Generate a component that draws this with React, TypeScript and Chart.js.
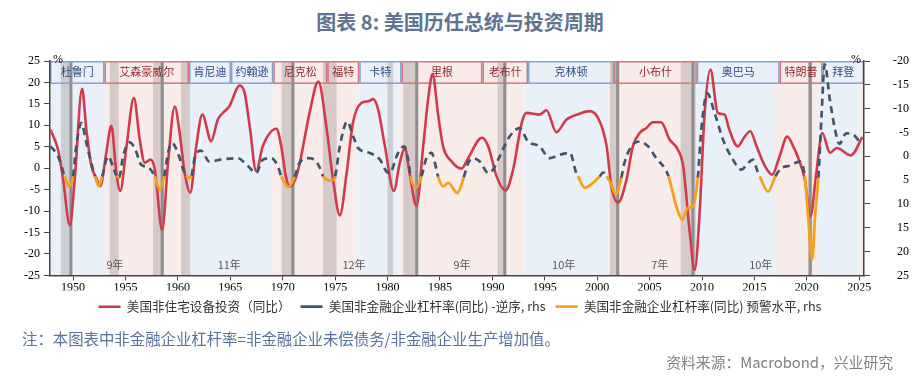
import React, { useEffect, useRef } from 'react';
import { Chart, registerables } from 'chart.js';

Chart.register(...registerables);

// ---------- data ----------
const xTickYears = [1950, 1955, 1960, 1965, 1970, 1975, 1980, 1985, 1990, 1995, 2000, 2005, 2010, 2015, 2020, 2025];

const investYears = [
  1947.85, 1948.57, 1949.05, 1949.69, 1950.16, 1950.86, 1951.27, 1951.75, 1952.2, 1952.6,
  1953.17, 1953.65, 1954.13, 1954.5, 1955.1, 1955.8, 1956.36, 1956.83, 1957.4, 1957.8,
  1958.5, 1959.06, 1959.7, 1960.17, 1960.65, 1961.18, 1961.75, 1962.33, 1963.18, 1963.8,
  1964.46, 1964.9, 1965.9, 1966.37, 1966.85, 1967.47, 1968.1, 1969.4, 1969.86, 1970.3,
  1970.7, 1971.3, 1971.76, 1972.56, 1973.4, 1974.2, 1974.8, 1975.45, 1976.1, 1976.7,
  1977.5, 1978.15, 1978.63, 1979.1, 1979.75, 1980.6, 1981.17, 1981.65, 1982.1, 1982.76,
  1983.4, 1983.9, 1984.3, 1984.8, 1985.3, 1986.1, 1987.05, 1987.7, 1989.0, 1989.6,
  1990.4, 1991.25, 1991.98, 1992.8, 1993.25, 1994.5, 1995.16, 1996.1, 1997.05, 1998.3,
  1999.3, 2000.24, 2000.9, 2001.35, 2002.0, 2002.8, 2003.4, 2004.05, 2004.7, 2005.3,
  2006.1, 2006.9, 2007.7, 2008.2, 2008.8, 2009.3, 2009.77, 2010.25, 2010.8, 2011.5,
  2012.15, 2012.6, 2013.4, 2014.0, 2014.6, 2015.2, 2016.0, 2016.7, 2017.4, 2018.13,
  2018.7, 2019.3, 2019.8, 2020.35, 2020.9, 2021.47, 2022.2, 2022.86, 2024.2, 2025.3,
];
const investValues = [
  9.0, 4.3, -2.6, -13.3, -2.6, 18.5, 9.0, 0.5, -2.2, -4.2,
  3.6, 9.9, -1.1, -5.3, 5.1, 16.4, 6.7, 1.3, 2.0, -0.3,
  -14.4, 1.3, 14.4, 8.2, -1.1, -5.7, 5.1, 12.5, 6.3, 11.3,
  13.3, 14.4, 19.3, 17.5, 9.8, -0.7, 5.1, 9.2, 5.1, -1.9,
  -4.3, -1.9, 2.8, 12.9, 20.2, 9.0, -2.6, -11.0, -1.1, 10.6,
  15.2, 15.6, 16.1, 13.7, 5.1, -5.3, 1.3, 4.7, -1.1, -8.8,
  5.1, 16.7, 22.0, 12.9, 5.1, 1.6, -0.1, 2.4, 7.1, 5.1,
  -1.9, -5.2, -0.3, 10.6, 12.9, 12.5, 13.5, 8.4, 11.3, 12.7,
  13.3, 10.9, 5.1, -4.2, -8.0, -2.6, 5.1, 8.2, 9.4, 10.7,
  10.7, 6.7, 4.3, 0.5, -14.3, -23.7, -10.4, 12.9, 23.0, 12.9,
  12.5, 9.0, 5.1, 7.1, 8.6, 5.1, 0.5, -1.5, 2.8, 7.4,
  5.1, 1.6, -2.6, -11.2, -1.1, 8.2, 3.6, 4.7, 3.0, 7.3,
];

const leverageYears = [
  1947.85, 1948.57, 1949.2, 1949.6, 1950.0, 1950.3, 1950.8, 1951.27, 1951.9, 1952.1,
  1952.45, 1952.78, 1953.34, 1953.8, 1954.15, 1954.4, 1954.77, 1955.4, 1955.94, 1956.5,
  1957.15, 1957.8, 1958.26, 1958.7, 1959.06, 1959.44, 1960.0, 1960.55, 1960.8, 1961.05,
  1961.3, 1961.6, 1962.2, 1963.0, 1964.1, 1965.7, 1966.7, 1967.47, 1968.1, 1968.9,
  1969.54, 1969.86, 1970.56, 1971.13, 1971.6, 1972.4, 1973.04, 1973.55, 1973.85, 1974.3,
  1974.66, 1975.0, 1975.45, 1976.15, 1976.72, 1977.2, 1978.3, 1979.27, 1979.9, 1980.2,
  1981.0, 1981.58, 1981.96, 1982.2, 1982.7, 1983.24, 1983.7, 1984.2, 1984.67, 1984.83,
  1985.3, 1985.78, 1986.67, 1987.27, 1987.7, 1988.16, 1988.8, 1989.6, 1990.07, 1990.7,
  1991.66, 1992.6, 1993.4, 1994.5, 1995.47, 1996.4, 1997.4, 1998.0, 1998.17, 1998.8,
  1999.6, 2000.24, 2000.56, 2000.9, 2001.35, 2001.76, 2002.3, 2002.6, 2003.26, 2004.05,
  2004.84, 2005.64, 2006.43, 2006.8, 2007.55, 2008.1, 2008.65, 2009.13, 2009.6, 2009.93,
  2010.5, 2011.2, 2012.0, 2012.95, 2013.75, 2014.4, 2014.85, 2015.3, 2015.5, 2016.3,
  2017.0, 2017.56, 2018.35, 2019.3, 2019.8, 2020.1, 2020.5, 2020.8, 2021.1, 2021.4,
  2021.7, 2022.2, 2022.65, 2023.1, 2023.75, 2024.4, 2025.0,
];
const leverageValues = [
  -2.1, 0.0, 4.2, 6.4, 4.2, -2.1, -7.0, -2.8, 2.8, 4.2,
  6.3, 4.2, 0.0, 2.1, 4.1, 4.4, 0.0, -2.9, -1.4, 1.8,
  2.3, 4.2, 7.0, 4.2, -0.7, -2.8, -0.7, 3.0, 4.1, 4.6,
  4.1, 0.4, -1.2, 1.1, 0.7, 0.4, 2.1, 3.5, 0.7, 0.4,
  2.1, 4.2, 6.4, 4.3, 1.4, 0.4, 0.7, 2.5, 4.2, 5.0,
  5.1, 4.2, -2.1, -7.3, -4.2, -1.7, -0.7, 0.7, 3.2, 3.5,
  -0.7, -2.1, 0.7, 4.2, 6.6, 4.2, 0.4, -0.7, 2.8, 4.3,
  6.3, 5.6, 7.7, 4.4, 1.4, 0.4, 1.1, 3.5, 2.8, 0.0,
  -4.2, -5.9, -3.1, -2.1, 0.4, -0.3, -0.7, 3.5, 4.2, 6.6,
  5.6, 4.2, 3.4, 4.2, 6.0, 8.0, 4.5, 1.4, -2.1, -3.1,
  -2.1, 0.4, 2.5, 4.2, 10.5, 13.3, 10.8, 10.5, 4.5, -5.6,
  -13.2, -9.1, -3.5, 0.7, 2.8, 1.4, 0.7, 3.2, 4.2, 7.4,
  4.2, 2.5, 2.0, 1.1, 4.2, 11.9, 21.7, 11.9, 4.5, -8.5,
  -19.3, -11.8, -6.0, -2.6, -4.8, -4.6, -3.1,
];
const warningLevel = 4;

// presidents: name, party, box start, box end
const presidents: [string, string, number, number][] = [
  ['杜鲁门', 'D', 1947.8, 1953.0],
  ['艾森豪威尔', 'R', 1953.0, 1961.06],
  ['肯尼迪', 'D', 1961.06, 1965.06],
  ['约翰逊', 'D', 1965.06, 1969.1],
  ['尼克松', 'R', 1969.1, 1974.25],
  ['福特', 'R', 1974.25, 1977.3],
  ['卡特', 'D', 1977.3, 1981.33],
  ['里根', 'R', 1981.33, 1989.05],
  ['老布什', 'R', 1989.05, 1993.4],
  ['克林顿', 'D', 1993.4, 2001.6],
  ['小布什', 'R', 2001.6, 2009.5],
  ['奥巴马', 'D', 2009.5, 2017.4],
  ['特朗普', 'R', 2017.4, 2021.5],
  ['拜登', 'D', 2021.5, 2025.45],
];

// background shading by party
const partyPeriods: [number, number, string][] = [
  [1947.8, 1953.05, 'D'], [1953.05, 1961.05, 'R'], [1961.05, 1969.05, 'D'],
  [1969.05, 1977.05, 'R'], [1977.05, 1981.05, 'D'], [1981.05, 1993.05, 'R'],
  [1993.05, 2001.05, 'D'], [2001.05, 2009.05, 'R'], [2009.05, 2017.05, 'D'],
  [2017.05, 2021.05, 'R'], [2021.05, 2025.05, 'D'], [2025.05, 2025.45, 'R'],
];

const recessions: [number, number][] = [
  [1948.83, 1949.9], [1953.5, 1954.36], [1957.63, 1958.68], [1960.3, 1961.18],
  [1969.9, 1971.1], [1973.83, 1975.14], [1980.0, 1980.53], [1981.49, 1982.92],
  [1990.49, 1991.34], [2001.2, 2002.1], [2007.96, 2009.4], [2020.1, 2020.5],
];
const troughs = [1949.8, 1958.5, 1970.97, 1982.78, 1991.18, 2001.95, 2009.13, 2020.32];

const cycleLabels: [number, string][] = [
  [1954.0, '9年'], [1964.9, '11年'], [1976.8, '12年'], [1987.1, '9年'],
  [1996.8, '10年'], [2005.96, '7年'], [2015.6, '10年'],
];

// ---------- styles ----------
const RED = '#cf3b4c';
const NAVY = '#44546a';
const ORANGE = '#f4a21d';
const BLUE_BG = '#eaf0f8';
const PINK_BG = '#f8eceb';
const CJK = "'Noto Sans CJK SC', 'Noto Sans', sans-serif";
const SERIF = "'Liberation Serif', 'DejaVu Serif', serif";

const backdrop = {
  id: 'backdrop',
  beforeDraw(chart: any) {
    const { ctx, chartArea: a, scales } = chart;
    const xs = scales.x;
    const ys = scales.y;
    const px = (v: number) => Math.max(a.left, Math.min(a.right, xs.getPixelForValue(v)));
    ctx.save();
    partyPeriods.forEach(([s, e, p]) => {
      ctx.fillStyle = p === 'D' ? BLUE_BG : PINK_BG;
      ctx.fillRect(px(s), a.top, px(e) - px(s), a.bottom - a.top);
    });
    ctx.fillStyle = 'rgba(70,60,60,0.19)';
    recessions.forEach(([s, e]) => {
      ctx.fillRect(px(s), a.top, px(e) - px(s), a.bottom - a.top);
    });
    ctx.strokeStyle = '#8e8e8e';
    ctx.lineWidth = 3;
    troughs.forEach((t) => {
      const x = px(t);
      ctx.beginPath();
      ctx.moveTo(x, a.top);
      ctx.lineTo(x, a.bottom);
      ctx.stroke();
    });
    // president boxes
    const bTop = ys.getPixelForValue(25);
    const bBot = ys.getPixelForValue(20);
    ctx.lineWidth = 1.5;
    ctx.font = `11px ${CJK}`;
    ctx.textAlign = 'center';
    ctx.textBaseline = 'middle';
    presidents.forEach(([name, party, s, e]) => {
      const x0 = px(s);
      const x1 = px(e);
      ctx.strokeStyle = party === 'D' ? '#86a3cf' : '#d3787f';
      ctx.strokeRect(x0 + 0.75, bTop + 0.75, x1 - x0 - 1.5, bBot - bTop);
      ctx.fillStyle = party === 'D' ? '#2c4a86' : '#8e2b30';
      ctx.fillText(name, (x0 + x1) / 2, (bTop + bBot) / 2 + 0.5);
    });
    // cycle lengths
    ctx.fillStyle = '#5a5a5a';
    ctx.font = `11px ${CJK}`;
    const ly = ys.getPixelForValue(-22.5);
    cycleLabels.forEach(([yr, t]) => ctx.fillText(t, xs.getPixelForValue(yr), ly));
    // unit marks
    ctx.fillStyle = '#000';
    ctx.font = `12px ${SERIF}`;
    ctx.fillText('%', a.left + 8, a.top - 1);
    ctx.fillText('%', a.right - 8, a.top - 1);
    ctx.restore();
  },
};

const warn = (c: any) => c.p0.parsed.y >= warningLevel && c.p1.parsed.y >= warningLevel;

export default function App() {
  const ref = useRef<HTMLCanvasElement>(null);
  useEffect(() => {
    if (!ref.current) return;
    const tickFont = { family: SERIF, size: 12 };
    const axisGrid = { display: true, drawOnChartArea: false, drawTicks: true, tickLength: 6, color: '#444', lineWidth: 1 };
    const axisBorder = { display: true, color: '#444', width: 1.5 };
    const chart = new Chart(ref.current, {
      type: 'line',
      data: {
        datasets: [
          {
            label: '美国非住宅设备投资（同比）',
            data: investYears.map((x, i) => ({ x, y: investValues[i] })),
            borderColor: RED,
            backgroundColor: RED,
            borderWidth: 2.6,
            pointRadius: 0,
            cubicInterpolationMode: 'monotone',
            yAxisID: 'y',
            order: 2,
          },
          {
            label: '美国非金融企业杠杆率(同比) -逆序, rhs',
            data: leverageYears.map((x, i) => ({ x, y: leverageValues[i] })),
            borderColor: NAVY,
            backgroundColor: NAVY,
            borderWidth: 2.7,
            borderDash: [7, 5],
            pointRadius: 0,
            cubicInterpolationMode: 'monotone',
            yAxisID: 'y1',
            order: 1,
            segment: {
              borderColor: (c: any) => (warn(c) ? ORANGE : NAVY),
              borderDash: (c: any) => (warn(c) ? [] : [7, 5]),
              borderWidth: (c: any) => (warn(c) ? 2.8 : 2.7),
            },
          },
          {
            label: '美国非金融企业杠杆率(同比) 预警水平, rhs',
            data: [],
            borderColor: ORANGE,
            backgroundColor: ORANGE,
            borderWidth: 2.8,
            pointRadius: 0,
            yAxisID: 'y1',
            order: 0,
          },
        ],
      } as any,
      options: {
        responsive: false,
        animation: false,
        layout: { padding: { left: 11, right: 11, top: 61, bottom: 61 } },
        plugins: {
          legend: {
            position: 'bottom',
            labels: {
              usePointStyle: true,
              pointStyle: 'line',
              pointStyleWidth: 22,
              padding: 10,
              color: '#333',
              font: { family: CJK, size: 12.6 },
              sort: (a: any, b: any) => a.datasetIndex - b.datasetIndex,
            },
          },
          tooltip: { enabled: false },
        },
        scales: {
          x: {
            type: 'linear',
            min: 1947.8,
            max: 2025.45,
            afterBuildTicks: (s: any) => {
              s.ticks = xTickYears.map((v) => ({ value: v }));
            },
            afterFit: (s: any) => {
              s.height = 15;
            },
            ticks: {
              callback: (v: any) => String(v),
              font: { family: SERIF, size: 12 },
              color: '#000',
              padding: 0,
              maxRotation: 0,
              autoSkip: false,
            },
            grid: { ...axisGrid, tickLength: 5 },
            border: axisBorder,
          },
          y: {
            position: 'left',
            min: -25,
            max: 25,
            ticks: { stepSize: 5, font: tickFont, color: '#000', padding: 4 },
            grid: axisGrid,
            border: axisBorder,
            afterFit: (s: any) => {
              s.width = 39;
            },
          },
          y1: {
            position: 'right',
            min: -20,
            max: 25,
            reverse: true,
            ticks: { stepSize: 5, font: tickFont, color: '#000', padding: 4, crossAlign: 'far' },
            grid: axisGrid,
            border: axisBorder,
            afterFit: (s: any) => {
              s.width = 45;
            },
          },
        },
      } as any,
      plugins: [backdrop],
    });
    return () => chart.destroy();
  }, []);

  return (
    <div style={{ position: 'absolute', left: 0, top: 0, width: 920, height: 384, background: '#fff' }}>
      <div
        style={{
          position: 'absolute', top: 10, left: 0, width: 920, textAlign: 'center',
          fontFamily: CJK, fontSize: 20, fontWeight: 700, lineHeight: '24px', color: '#607391',
        }}
      >
        图表 8: 美国历任总统与投资周期
      </div>
      <canvas ref={ref} width={920} height={384} style={{ position: 'absolute', left: 0, top: 0, width: 920, height: 384 }} />
      <div
        style={{
          position: 'absolute', left: 22, top: 329, fontFamily: CJK, fontSize: 15.4,
          lineHeight: '18px', color: '#5a7298', whiteSpace: 'nowrap',
        }}
      >
        注：本图表中非金融企业杠杆率=非金融企业未偿债务/非金融企业生产增加值。
      </div>
      <div
        style={{
          position: 'absolute', right: 27, top: 353, fontFamily: CJK, fontSize: 14.8,
          lineHeight: '18px', color: '#808080', whiteSpace: 'nowrap',
        }}
      >
        资料来源：Macrobond，兴业研究
      </div>
    </div>
  );
}
